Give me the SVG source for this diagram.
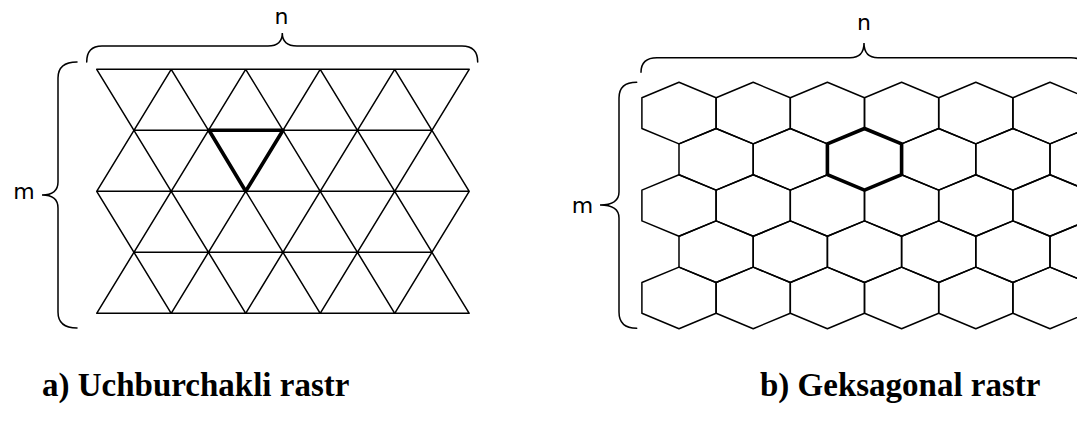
<svg xmlns="http://www.w3.org/2000/svg" width="1077" height="425" viewBox="0 0 1077 425">
<style>
.ln{fill:none;stroke:#000;stroke-width:1.5;stroke-linecap:round;stroke-linejoin:round}
.thick{fill:none;stroke:#000;stroke-width:3.6;stroke-linejoin:round}
.brace{fill:none;stroke:#000;stroke-width:1.5;stroke-linecap:round}
.lbl{font-family:"DejaVu Sans",sans-serif;font-size:22px;fill:#000;text-anchor:middle}
.cap{font-family:"Liberation Serif","Times New Roman",serif;font-size:33px;font-weight:bold;fill:#000}
</style>
<defs>
<path id="hex" d="M0,0 L37.1,15.4 L37.1,46.2 L0,61.6 L-37.1,46.2 L-37.1,15.4 Z"/>
</defs>
<rect width="1077" height="425" fill="#fff"/>

<g id="triangular">
<path class="ln" d="M96.7,69.3 H469.2 M134,130.3 H432 M96.7,191.3 H469.2 M134,252.3 H432 M96.7,313.3 H469.2
M96.7,69.3 L245.7,313.3 M171.2,69.3 L320.2,313.3 M245.7,69.3 L394.7,313.3 M320.2,69.3 L469.2,313.3 M394.7,69.3 L469.2,191.3 M96.7,191.3 L171.2,313.3
M171.2,69.3 L96.7,191.3 M245.7,69.3 L96.7,313.3 M320.2,69.3 L171.2,313.3 M394.7,69.3 L245.7,313.3 M469.2,69.3 L320.2,313.3 M469.2,191.3 L394.7,313.3"/>
<path class="thick" d="M209,130.3 L283,130.3 L245.7,191.3 Z"/>
<path class="brace" d="M86.7,62 Q86.7,46 102,46 L268,46 Q282.3,46 282.3,33 Q282.3,46 297,46 L462,46 Q477.7,46 477.7,62"/>
<path class="brace" d="M77,62 Q58,62 58,78 L58,182 Q58,195 42,195 Q58,195 58,208 L58,312 Q58,328 77,328"/>
<text class="lbl" x="281.5" y="24">n</text>
<text class="lbl" x="24" y="199">m</text>
</g>

<g id="hexagonal">
<g class="ln">
<use href="#hex" x="679" y="82.3"/><use href="#hex" x="753.2" y="82.3"/><use href="#hex" x="827.4" y="82.3"/><use href="#hex" x="901.6" y="82.3"/><use href="#hex" x="975.8" y="82.3"/><use href="#hex" x="1050" y="82.3"/>
<use href="#hex" x="716.1" y="128.5"/><use href="#hex" x="790.3" y="128.5"/><use href="#hex" x="864.5" y="128.5"/><use href="#hex" x="938.7" y="128.5"/><use href="#hex" x="1012.9" y="128.5"/><use href="#hex" x="1087.1" y="128.5"/>
<use href="#hex" x="679" y="174.7"/><use href="#hex" x="753.2" y="174.7"/><use href="#hex" x="827.4" y="174.7"/><use href="#hex" x="901.6" y="174.7"/><use href="#hex" x="975.8" y="174.7"/><use href="#hex" x="1050" y="174.7"/>
<use href="#hex" x="716.1" y="220.9"/><use href="#hex" x="790.3" y="220.9"/><use href="#hex" x="864.5" y="220.9"/><use href="#hex" x="938.7" y="220.9"/><use href="#hex" x="1012.9" y="220.9"/><use href="#hex" x="1087.1" y="220.9"/>
<use href="#hex" x="679" y="267.1"/><use href="#hex" x="753.2" y="267.1"/><use href="#hex" x="827.4" y="267.1"/><use href="#hex" x="901.6" y="267.1"/><use href="#hex" x="975.8" y="267.1"/><use href="#hex" x="1050" y="267.1"/>
</g>
<use href="#hex" class="thick" x="864.5" y="128.5"/>
<path class="brace" d="M641,72.3 Q641,57.7 657,57.7 L850,57.7 Q864,57.7 864,43 Q864,57.7 878,57.7 L1071,57.7 Q1087,57.7 1087,72.3"/>
<path class="brace" d="M636.7,82.3 Q619,82.3 619,98 L619,192 Q619,205 600,205 Q619,205 619,218 L619,312 Q619,328.3 636.7,328.3"/>
<text class="lbl" x="864" y="29.5">n</text>
<text class="lbl" x="582.5" y="213">m</text>
</g>

<g id="captions">
<text class="cap" x="42" y="396">a) Uchburchakli rastr</text>
<text class="cap" x="760" y="396">b) Geksagonal rastr</text>
</g>
</svg>
